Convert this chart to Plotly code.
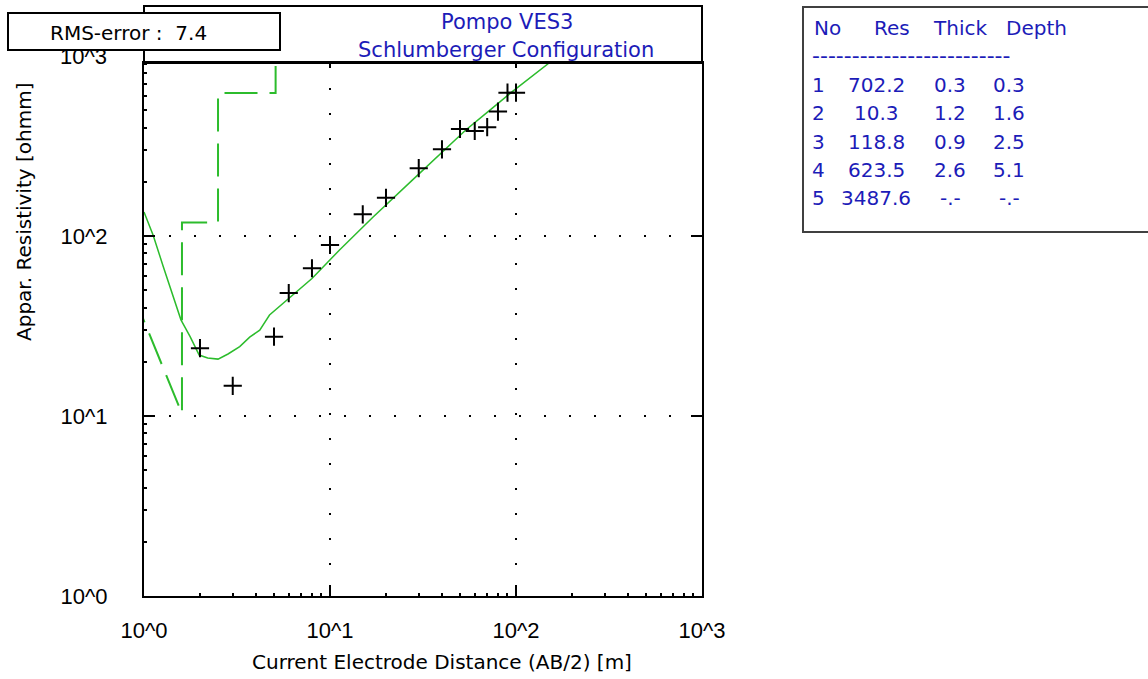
import plotly.graph_objects as go

# ---------------- data ----------------
# Observed apparent resistivity: AB/2 [m] and rho_a [ohm-m]
obs_ab2 = [2, 3, 5, 6, 8, 10, 15, 20, 30, 40, 50, 60, 70, 80, 90, 100]
obs_rho = [23.8, 14.7, 27.6, 48.2, 66.2, 89.1, 132, 163, 238, 303, 393, 383, 402, 491, 625, 625]

# Calculated (model) response curve
calc_ab2 = [1.0, 1.12, 1.27, 1.44, 1.58, 1.77, 1.98, 2.2, 2.5, 2.83, 3.27, 3.7, 4.19,
            4.73, 6.06, 8.0, 11.25, 17, 27.8, 40, 53.7, 70, 95.5, 150, 170]
calc_rho = [136, 101, 67.5, 46, 34.2, 27.6, 21.8, 21.0, 20.7, 22.1, 24.3, 27.4, 30.0,
            36.4, 45.1, 58, 83.6, 127, 205, 291, 388, 486, 634, 911, 1020]

# Layered earth model (table)
layer_no = [1, 2, 3, 4, 5]
layer_res = [702.2, 10.3, 118.8, 623.5, 3487.6]
layer_thick = [0.3, 1.2, 0.9, 2.6, None]
layer_depth = [0.3, 1.6, 2.5, 5.1, None]

rms_error = 7.4
title_lines = ["Pompo VES3", "Schlumberger Configuration"]
x_ticklabels = {"1": "10^0", "10": "10^1", "100": "10^2", "1000": "10^3", "1k": "10^3"}
y_ticklabels = {"1": "10^0", "10": "10^1", "100": "10^2"}

# ---------------- layout helpers (pixel -> paper) ----------------
W, H = 1148, 679
L, R, T, B = 144, 702, 63, 596


def px(x):
    return (x - L) / (R - L)


def py(y):
    return (B - y) / (B - T)


GREEN = "#2cbc2c"
BLUE = "#1c1cb8"
TXT = "DejaVu Sans"
TICKF = "Liberation Sans"

# step model line built from the table
step_x = [layer_depth[0]]
step_y = [layer_res[0]]
for i in range(1, 4):
    step_x += [layer_depth[i], layer_depth[i]]
    step_y += [layer_res[i], layer_res[i + 1]]

fig = go.Figure()
fig.add_trace(go.Scatter(x=step_x, y=step_y, mode="lines",
                         line=dict(color=GREEN, width=2, dash="33px,12px"),
                         hoverinfo="skip"))
fig.add_trace(go.Scatter(x=calc_ab2, y=calc_rho, mode="lines",
                         line=dict(color=GREEN, width=1.5)))
fig.add_trace(go.Scatter(x=obs_ab2, y=obs_rho, mode="markers",
                         marker=dict(symbol="cross-thin", size=13,
                                     line=dict(color="black", width=2))))
# empty trace to activate the mirrored-tick axes
fig.add_trace(go.Scatter(x=[], y=[], xaxis="x2", yaxis="y2", mode="markers"))

axis_common = dict(
    type="log", dtick=1, tick0=0, tickmode="linear",
    showgrid=True, gridcolor="black", gridwidth=1.5, griddash="2px,23px",
    ticks="inside", ticklen=11, tickwidth=2, tickcolor="black",
    showline=True, linewidth=2, linecolor="black", mirror=True,
    zeroline=False, exponentformat="none",
    tickfont=dict(family=TICKF, size=22, color="black"),
    minor=dict(dtick="D1", ticks="inside", ticklen=3, tickwidth=1.5,
               tickcolor="black", showgrid=False),
)

fig.update_layout(
    width=W, height=H,
    margin=dict(l=L, r=W - R, t=T, b=H - B, autoexpand=False),
    paper_bgcolor="white", plot_bgcolor="white",
    showlegend=False,
    xaxis=dict(axis_common, range=[0, 3], labelalias=x_ticklabels,
               ticklabelstandoff=14),
    yaxis=dict(axis_common, range=[0, 2.961], labelalias=y_ticklabels,
               ticklabelstandoff=30),
    xaxis2=dict(type="log", range=[0, 3], overlaying="x", side="top", anchor="y2",
                tickmode="array", tickvals=[10, 100], ticks="inside", ticklen=5,
                tickwidth=2, tickcolor="black", showticklabels=False,
                showgrid=False, showline=False, zeroline=False),
    yaxis2=dict(type="log", range=[0, 2.961], overlaying="y", side="right", anchor="x2",
                tickmode="array", tickvals=[10, 100], ticks="inside", ticklen=11,
                tickwidth=2, tickcolor="black", showticklabels=False,
                showgrid=False, showline=False, zeroline=False),
)

shapes = [
    # title box on top of the plot frame
    dict(type="rect", xref="paper", yref="paper", x0=px(L), x1=px(R), y0=py(T), y1=py(6),
         line=dict(color="black", width=2), fillcolor="rgba(0,0,0,0)", layer="above"),
    # RMS box
    dict(type="rect", xref="paper", yref="paper", x0=px(8), x1=px(280), y0=py(50), y1=py(13),
         line=dict(color="black", width=2), fillcolor="white", layer="above"),
    # model table box
    dict(type="rect", xref="paper", yref="paper", x0=px(803), x1=px(1160), y0=py(232), y1=py(7),
         line=dict(color="#404040", width=2), fillcolor="white", layer="above"),
]
fig.update_layout(shapes=shapes)

ann = []


def text(x, y, s, color="black", size=20, family=TXT, xanchor="center", angle=0):
    ann.append(dict(x=px(x), y=py(y), xref="paper", yref="paper", text=s,
                    showarrow=False, xanchor=xanchor, yanchor="middle", textangle=angle,
                    font=dict(family=family, size=size, color=color)))


# title
text(507, 22, title_lines[0], color=BLUE, size=21)
text(506, 50, title_lines[1], color=BLUE, size=21)
# RMS
text(48, 33, "RMS-error :\u00a0\u00a0" + f"{rms_error:.1f}", xanchor="left", size=20)
# y tick label above the plotted range
text(83, 57, "10^3", family=TICKF, size=22)
# axis titles
text(442, 662, "Current Electrode Distance (AB/2) [m]", size=20)
text(24, 212, "Appar. Resistivity [ohmm]", size=20, angle=-90)

# table
text(812, 28, "No", color=BLUE, xanchor="left")
text(892, 28, "Res", color=BLUE)
text(960, 28, "Thick", color=BLUE)
text(1036, 28, "Depth", color=BLUE)
text(810, 55, "-" * 25, color=BLUE, xanchor="left", size=22)
row_y = [85, 113, 142, 170, 198]
for i in range(len(layer_no)):
    yy = row_y[i]
    text(818, yy, str(layer_no[i]), color=BLUE)
    text(876, yy, f"{layer_res[i]:.1f}", color=BLUE)
    th = "-.-" if layer_thick[i] is None else f"{layer_thick[i]:.1f}"
    dp = "-.-" if layer_depth[i] is None else f"{layer_depth[i]:.1f}"
    text(950, yy, th, color=BLUE)
    text(1009, yy, dp, color=BLUE)

fig.update_layout(annotations=ann)
fig.write_html("out.html")
